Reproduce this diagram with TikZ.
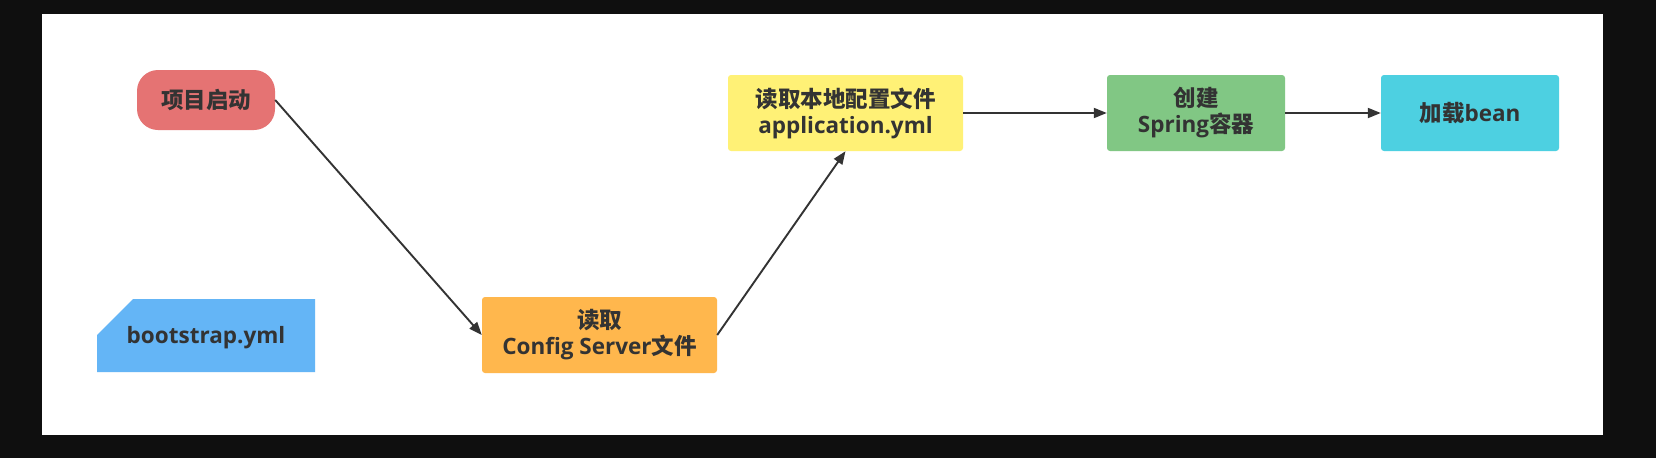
\documentclass[tikz,border=0pt]{standalone}
\usepackage{fontspec}
\setmainfont{Open Sans}
\newfontfamily\cjk{Noto Sans CJK SC}
\usetikzlibrary{arrows.meta}
\definecolor{bgdark}{HTML}{0F0F0F}
\definecolor{txt}{HTML}{333333}
\definecolor{ln}{HTML}{333333}
\definecolor{cRed}{HTML}{E57373}
\definecolor{cBlue}{HTML}{64B5F6}
\definecolor{cOrange}{HTML}{FFB74D}
\definecolor{cYellow}{HTML}{FFF176}
\definecolor{cGreen}{HTML}{81C784}
\definecolor{cCyan}{HTML}{4DD0E1}
\begin{document}
\begin{tikzpicture}[x=1pt,y=-1pt,
  boxst/.style={rectangle, rounded corners=3pt, inner sep=0pt, text=txt,
    font=\fontsize{22.5}{26}\selectfont\bfseries, align=center},
  conn/.style={draw=ln, line width=1.9pt, -{Triangle[length=13pt,width=10pt]}}]
\useasboundingbox (0,0) rectangle (1656,458);
\fill[bgdark] (0,0) rectangle (1656,458);
\fill[white] (42,14) rectangle (1603,435);
% bootstrap shape
\fill[cBlue] (97,372) -- (97,335) -- (133,299) -- (315,299) -- (315,372) -- cycle;
\node[boxst] (boot) at (206,337.5) {bootstrap.yml};
\node[boxst, fill=cRed, rounded corners=21pt, minimum width=138pt, minimum height=60pt] (start) at (206,100) {\cjk 项目启动};
\node[boxst, fill=cOrange, minimum width=235pt, minimum height=76pt] (cfg) at (599.5,335) {{\cjk 读取}\\Config Server{\cjk 文件}};
\node[boxst, fill=cYellow, minimum width=235pt, minimum height=76pt] (local) at (845.5,113) {{\cjk 读取本地配置文件}\\application.yml};
\node[boxst, fill=cGreen, minimum width=178pt, minimum height=76pt] (spring) at (1196,113) {{\cjk 创建}\\Spring{\cjk 容器}};
\node[boxst, fill=cCyan, minimum width=178pt, minimum height=76pt] (bean) at (1470,113) {{\cjk 加载}bean};
\draw[conn] (start.east) -- (cfg.west);
\draw[conn] (cfg.east) -- (local.south);
\draw[conn] (local.east) -- (spring.west);
\draw[conn] (spring.east) -- (bean.west);
\end{tikzpicture}
\end{document}
